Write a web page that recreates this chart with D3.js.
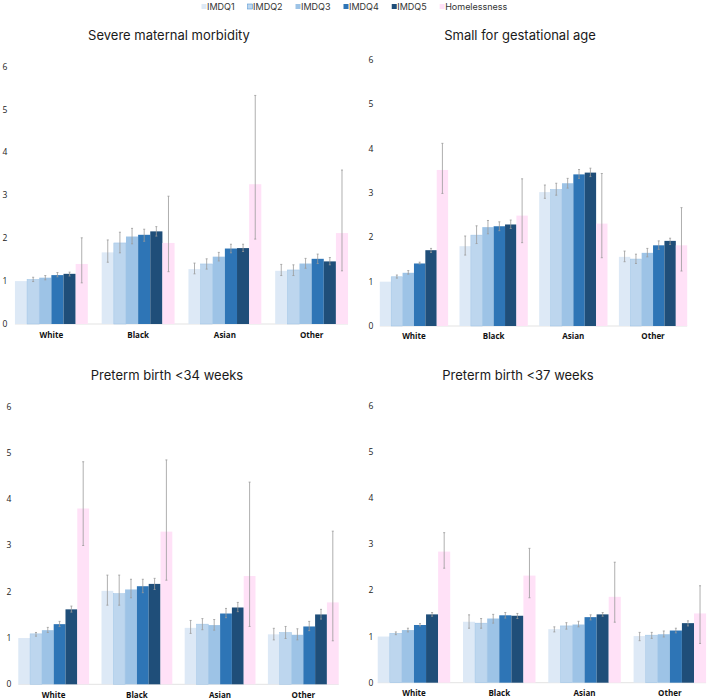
<!DOCTYPE html>
<html>
<head>
<meta charset="utf-8">
<script src="https://cdn.jsdelivr.net/npm/d3@7"></script>
<style>
  body { margin: 0; background: #fff; }
  svg { display: block; }
</style>
</head>
<body>
<svg id="chart" width="709" height="700"></svg>
<script>
const categories = ['White', 'Black', 'Asian', 'Other'];
const seriesNames = ['IMDQ1', 'IMDQ2', 'IMDQ3', 'IMDQ4', 'IMDQ5', 'Homelessness'];
const seriesColors = ['#dde9f6', '#bdd6ee', '#9dc3e6', '#2e75b6', '#1f4e79', '#ffe1f7'];
const yTicks = [0, 1, 2, 3, 4, 5, 6];

// Severe maternal morbidity: rows = series, columns = categories
const smmValues = [
  [1.00, 1.67, 1.28, 1.24],
  [1.04, 1.89, 1.40, 1.26],
  [1.08, 2.04, 1.57, 1.41],
  [1.14, 2.08, 1.76, 1.52],
  [1.17, 2.16, 1.77, 1.46],
  [1.40, 1.89, 3.26, 2.12]
];
const smmLower = [
  [null, 1.44, 1.17, 1.13],
  [0.99, 1.66, 1.28, 1.13],
  [1.03, 1.87, 1.47, 1.30],
  [1.10, 1.93, 1.66, 1.41],
  [1.12, 2.05, 1.69, 1.38],
  [0.96, 1.22, 1.98, 1.24]
];
const smmUpper = [
  [null, 1.96, 1.42, 1.39],
  [1.09, 2.14, 1.52, 1.38],
  [1.13, 2.23, 1.67, 1.53],
  [1.20, 2.21, 1.86, 1.63],
  [1.21, 2.27, 1.86, 1.55],
  [2.01, 2.98, 5.33, 3.59]
];

// Small for gestational age
const sgaValues = [
  [1.00, 1.80, 3.02, 1.56],
  [1.11, 2.05, 3.08, 1.51],
  [1.20, 2.23, 3.22, 1.65],
  [1.41, 2.25, 3.42, 1.82],
  [1.71, 2.29, 3.46, 1.92],
  [3.52, 2.49, 2.31, 1.82]
];
const sgaLower = [
  [null, 1.60, 2.88, 1.45],
  [1.08, 1.86, 2.95, 1.41],
  [1.17, 2.08, 3.11, 1.56],
  [1.40, 2.15, 3.33, 1.73],
  [1.66, 2.20, 3.37, 1.84],
  [2.99, 1.88, 1.54, 1.24]
];
const sgaUpper = [
  [null, 2.03, 3.18, 1.69],
  [1.15, 2.26, 3.22, 1.62],
  [1.25, 2.38, 3.33, 1.75],
  [1.44, 2.35, 3.53, 1.92],
  [1.75, 2.39, 3.56, 1.98],
  [4.12, 3.32, 3.44, 2.67]
];

// Preterm birth <34 weeks
const ptb34Values = [
  [1.00, 2.02, 1.22, 1.08],
  [1.09, 1.96, 1.30, 1.12],
  [1.17, 2.05, 1.28, 1.07],
  [1.30, 2.12, 1.53, 1.25],
  [1.62, 2.17, 1.66, 1.51],
  [3.80, 3.30, 2.34, 1.77]
];
const ptb34Lower = [
  [null, 1.71, 1.10, 0.96],
  [1.04, 1.71, 1.18, 0.99],
  [1.12, 1.87, 1.17, 0.96],
  [1.25, 1.98, 1.44, 1.16],
  [1.56, 2.05, 1.57, 1.41],
  [3.00, 2.25, 1.25, 0.94]
];
const ptb34Upper = [
  [null, 2.36, 1.38, 1.21],
  [1.12, 2.36, 1.42, 1.25],
  [1.23, 2.27, 1.40, 1.20],
  [1.36, 2.27, 1.64, 1.36],
  [1.69, 2.29, 1.77, 1.62],
  [4.81, 4.85, 4.37, 3.31]
];

// Preterm birth <37 weeks
const ptb37Values = [
  [1.00, 1.32, 1.16, 1.01],
  [1.07, 1.29, 1.23, 1.03],
  [1.14, 1.39, 1.26, 1.05],
  [1.25, 1.46, 1.42, 1.13],
  [1.48, 1.45, 1.48, 1.29],
  [2.84, 2.32, 1.86, 1.50]
];
const ptb37Lower = [
  [null, 1.18, 1.10, 0.91],
  [1.04, 1.18, 1.16, 0.96],
  [1.10, 1.29, 1.21, 0.99],
  [1.23, 1.40, 1.36, 1.08],
  [1.44, 1.39, 1.44, 1.23],
  [2.48, 1.84, 1.31, 0.85]
];
const ptb37Upper = [
  [null, 1.47, 1.21, 1.09],
  [1.10, 1.39, 1.30, 1.09],
  [1.18, 1.48, 1.33, 1.12],
  [1.28, 1.52, 1.47, 1.18],
  [1.52, 1.50, 1.52, 1.34],
  [3.25, 2.91, 2.61, 2.10]
];

const panels = [
  { title: 'Severe maternal morbidity', values: smmValues, lower: smmLower, upper: smmUpper,
    titleX: 169, titleY: 40, xRange: [8, 355], pi: 0.16, po: 0.08, yRange: [324, 66.7], tickX: 5, labelY: 338 },
  { title: 'Small for gestational age', values: sgaValues, lower: sgaLower, upper: sgaUpper,
    titleX: 520, titleY: 40, xRange: [372, 695], pi: 0.143, po: 0.098, yRange: [326, 60], tickX: 371, labelY: 339 },
  { title: 'Preterm birth <34 weeks', values: ptb34Values, lower: ptb34Lower, upper: ptb34Upper,
    titleX: 167, titleY: 380, xRange: [10.8, 346.2], pi: 0.149, po: 0.09, yRange: [684.3, 406.7], tickX: 9, labelY: 698 },
  { title: 'Preterm birth <37 weeks', values: ptb37Values, lower: ptb37Lower, upper: ptb37Upper,
    titleX: 518, titleY: 380, xRange: [370.9, 712.9], pi: 0.15, po: 0.08, yRange: [682.7, 405.7], tickX: 371, labelY: 696 }
];

const svg = d3.select('#chart');
const font = 'Inter, "Open Sans", sans-serif';

// legend
const legend = svg.append('g').attr('font-family', font).attr('font-size', 9).attr('fill', '#333');
let lx = 201.5;
seriesNames.forEach((name, i) => {
  const g = legend.append('g');
  g.append('rect')
    .attr('x', lx).attr('y', 4).attr('width', 5).attr('height', 5)
    .attr('fill', seriesColors[i])
    .attr('stroke', i === 1 ? '#5b9bd5' : 'none')
    .attr('stroke-width', 0.6);
  const t = g.append('text').attr('x', lx + 5.5).attr('y', 10.2).text(name);
  lx += 5.5 + t.node().getComputedTextLength() + 13;
});

panels.forEach(p => {
  const g = svg.append('g');

  const x0 = d3.scaleBand().domain(categories).range(p.xRange)
    .paddingInner(p.pi).paddingOuter(p.po);
  const x1 = d3.scaleBand().domain(seriesNames).range([0, x0.bandwidth()]);
  const y = d3.scaleLinear().domain([0, 6]).range(p.yRange);

  g.append('text')
    .attr('x', p.titleX).attr('y', p.titleY)
    .attr('text-anchor', 'middle')
    .attr('font-family', font).attr('font-size', 13).attr('fill', '#1a1a1a')
    .text(p.title);

  // y tick labels
  g.append('g')
    .selectAll('text')
    .data(yTicks)
    .join('text')
    .attr('x', p.tickX)
    .attr('y', d => y(d))
    .attr('dy', '0.35em')
    .attr('text-anchor', 'middle')
    .attr('font-family', '"Open Sans", sans-serif').attr('font-size', 8.5).attr('fill', '#222')
    .text(d => d);

  // baseline
  g.append('line')
    .attr('x1', x0('White')).attr('x2', x0('Other') + x0.bandwidth())
    .attr('y1', y(0)).attr('y2', y(0))
    .attr('stroke', '#e3e3e3').attr('stroke-width', 1);

  const bars = [];
  p.values.forEach((row, s) => {
    row.forEach((v, c) => {
      bars.push({ s, c, v, lo: p.lower[s][c], hi: p.upper[s][c] });
    });
  });

  g.append('g')
    .selectAll('rect')
    .data(bars)
    .join('rect')
    .attr('x', d => x0(categories[d.c]) + x1(seriesNames[d.s]))
    .attr('y', d => y(d.v))
    .attr('width', x1.bandwidth())
    .attr('height', d => y(0) - y(d.v))
    .attr('fill', d => seriesColors[d.s])
    .attr('stroke', d => d.s === 1 ? '#9dc3e6' : 'none')
    .attr('stroke-width', 0.5);

  const errs = bars.filter(d => d.lo != null);
  const cx = d => x0(categories[d.c]) + x1(seriesNames[d.s]) + x1.bandwidth() / 2;
  const eg = g.append('g').attr('stroke', '#9a9a9a').attr('stroke-width', 0.8);
  eg.selectAll('line.v')
    .data(errs)
    .join('line')
    .attr('class', 'v')
    .attr('x1', cx).attr('x2', cx)
    .attr('y1', d => y(d.lo)).attr('y2', d => y(d.hi));
  eg.selectAll('line.capTop')
    .data(errs)
    .join('line')
    .attr('class', 'capTop')
    .attr('x1', d => cx(d) - 1).attr('x2', d => cx(d) + 1)
    .attr('y1', d => y(d.hi)).attr('y2', d => y(d.hi));
  eg.selectAll('line.capBot')
    .data(errs)
    .join('line')
    .attr('class', 'capBot')
    .attr('x1', d => cx(d) - 1).attr('x2', d => cx(d) + 1)
    .attr('y1', d => y(d.lo)).attr('y2', d => y(d.lo));

  // category labels
  g.append('g')
    .selectAll('text')
    .data(categories)
    .join('text')
    .attr('x', d => x0(d) + x0.bandwidth() / 2)
    .attr('y', p.labelY)
    .attr('text-anchor', 'middle')
    .attr('font-family', '"Open Sans", sans-serif').attr('font-size', 8).attr('font-weight', 'bold')
    .attr('fill', '#111')
    .text(d => d);
});
</script>
</body>
</html>
